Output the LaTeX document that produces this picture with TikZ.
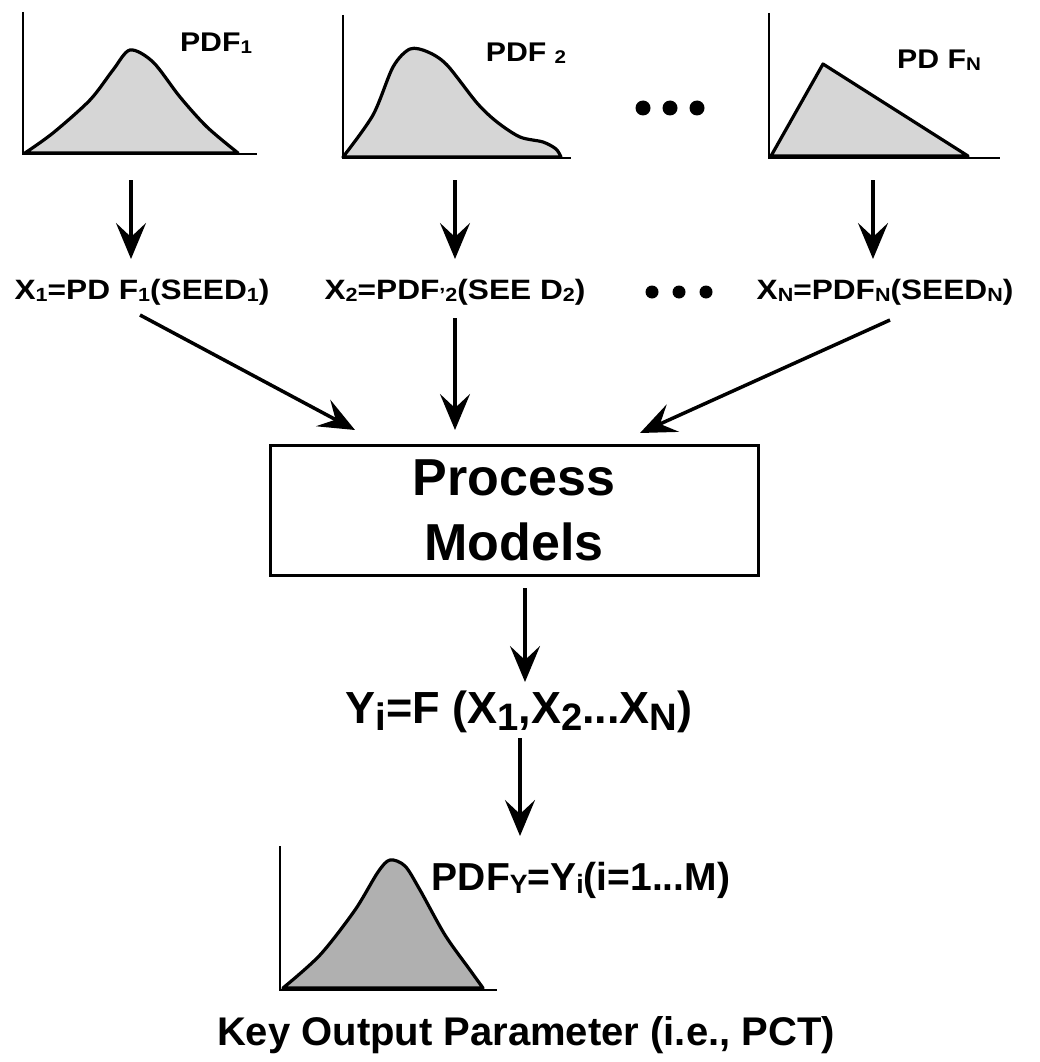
\documentclass[tikz,border=0pt]{standalone}
\usepackage{fontspec}
\setmainfont{Liberation Sans}
\newfontfamily\widefont{Liberation Sans}[FakeStretch=1.13]
\newfontfamily\topfont{Liberation Sans}[FakeStretch=1.12]
\usetikzlibrary{arrows.meta}
\newcommand\lsub[1]{\raisebox{-0.08em}{\scalebox{0.68}{#1}}}
\newcommand\msub[1]{\raisebox{-0.15em}{\scalebox{0.85}{#1}}}
\begin{document}
\begin{tikzpicture}[x=1pt,y=-1pt,
  axisline/.style={line width=2.5pt},
  curve/.style={line width=3.2pt, line join=round, fill=gray!32},
  darkcurve/.style={line width=3.2pt, line join=round, fill=gray!62},
  arr/.style={line width=3.5pt, -{Stealth[length=36pt,width=30pt,inset=14pt]}},
  toplbl/.style={font=\topfont\bfseries\fontsize{27}{30}\selectfont, inner sep=0pt},
  xlbl/.style={font=\widefont\bfseries\fontsize{28}{32}\selectfont, inner sep=0pt},
  biglbl/.style={font=\bfseries\fontsize{45}{48}\selectfont, inner sep=0pt},
  outlbl/.style={font=\bfseries\fontsize{39}{44}\selectfont, inner sep=0pt},
  keylbl/.style={font=\bfseries\fontsize{40}{44}\selectfont, inner sep=0pt},
  procbox/.style={draw, line width=3pt, minimum width=488pt, minimum height=130pt,
    align=center, font=\bfseries\fontsize{52}{65}\selectfont, inner sep=0pt},
  bigdot/.style={fill=black}
]
\useasboundingbox (0,0) rectangle (1039,1062);

% ---- PDF 1 ----
\draw[curve] plot[smooth, tension=0.5] coordinates {(25,153) (53,133) (90,100) (113,70) (130,50) (153,62) (180,97) (207,127) (238,153)} -- cycle;
\draw[axisline] (23,12) -- (23,154) -- (257,154);
\node[toplbl] (l1) at (216,43) {PDF\lsub{1}};

% ---- PDF 2 ----
\draw[curve] plot[smooth, tension=0.5] coordinates {(343,157) (373,115) (393,67) (410,49) (428,52) (447,65) (477,103) (497,122) (520,137) (543,142) (556,149) (561,157)} -- cycle;
\draw[axisline] (343,15) -- (343,158) -- (571,158);
\node[toplbl] (l2) at (526,53) {PDF \lsub{2}};

\fill[bigdot] (643,108) circle (7.5);
\fill[bigdot] (670,108) circle (7.5);
\fill[bigdot] (697,108) circle (7.5);

% ---- PDF N ----
\draw[curve] (771,156) -- (823,64) -- (968,156) -- cycle;
\draw[axisline] (769,13) -- (769,158) -- (1000,158);
\node[toplbl] (l3) at (939,60) {PD F\lsub{N}};

% ---- X row ----
\node[xlbl] (x1) at (142,292) {X\lsub{1}=PD F\lsub{1}(SEED\lsub{1})};
\node[xlbl] (x2) at (455,292) {X\lsub{2}=PDF\lsub{\textquoteright 2}(SEE D\lsub{2})};
\node[xlbl] (xn) at (885,292) {X\lsub{N}=PDF\lsub{N}(SEED\lsub{N})};
\fill[bigdot] (652,292) circle (6.5);
\fill[bigdot] (679,292) circle (6.5);
\fill[bigdot] (706,292) circle (6.5);

\coordinate (p1) at (131,180);
\coordinate (p2) at (455,180);
\coordinate (p3) at (873,180);
\coordinate (q1) at (131,259);
\coordinate (q2) at (455,259);
\coordinate (q3) at (873,259);
\draw[arr] (p1) -- (q1);
\draw[arr] (p2) -- (q2);
\draw[arr] (p3) -- (q3);

% ---- process box ----
\node[procbox] (box) at (514,510) {Process\\Models};

\coordinate (b1s) at (140,315);
\coordinate (b1e) at (355,430);
\coordinate (b2s) at (455,318);
\coordinate (b2e) at (455,430);
\coordinate (b3s) at (890,320);
\coordinate (b3e) at (640,433);
\draw[arr] (b1s) -- (b1e);
\draw[arr] (b2s) -- (b2e);
\draw[arr] (b3s) -- (b3e);

% ---- Y ----
\node[biglbl] (y) at (519,712) {Y\msub{i}=F (X\msub{1},X\msub{2}...X\msub{N})};
\coordinate (c1) at (525,588);
\coordinate (c2) at (525,682);
\draw[arr] (c1) -- (c2);

% ---- output pdf ----
\draw[darkcurve] plot[smooth, tension=0.5] coordinates {(283,988) (320,955) (355,910) (378,872) (390,860) (405,866) (420,890) (445,935) (470,970) (483,988)} -- cycle;
\draw[axisline] (280,846) -- (280,990) -- (497,990);
\node[outlbl] (py) at (581,880) {PDF\lsub{Y}=Y\lsub{i}(i=1...M)};
\coordinate (e1) at (520,738);
\coordinate (e2) at (520,836);
\draw[arr] (e1) -- (e2);

\node[keylbl] (key) at (526,1035) {Key Output Parameter (i.e., PCT)};
\end{tikzpicture}
\end{document}
